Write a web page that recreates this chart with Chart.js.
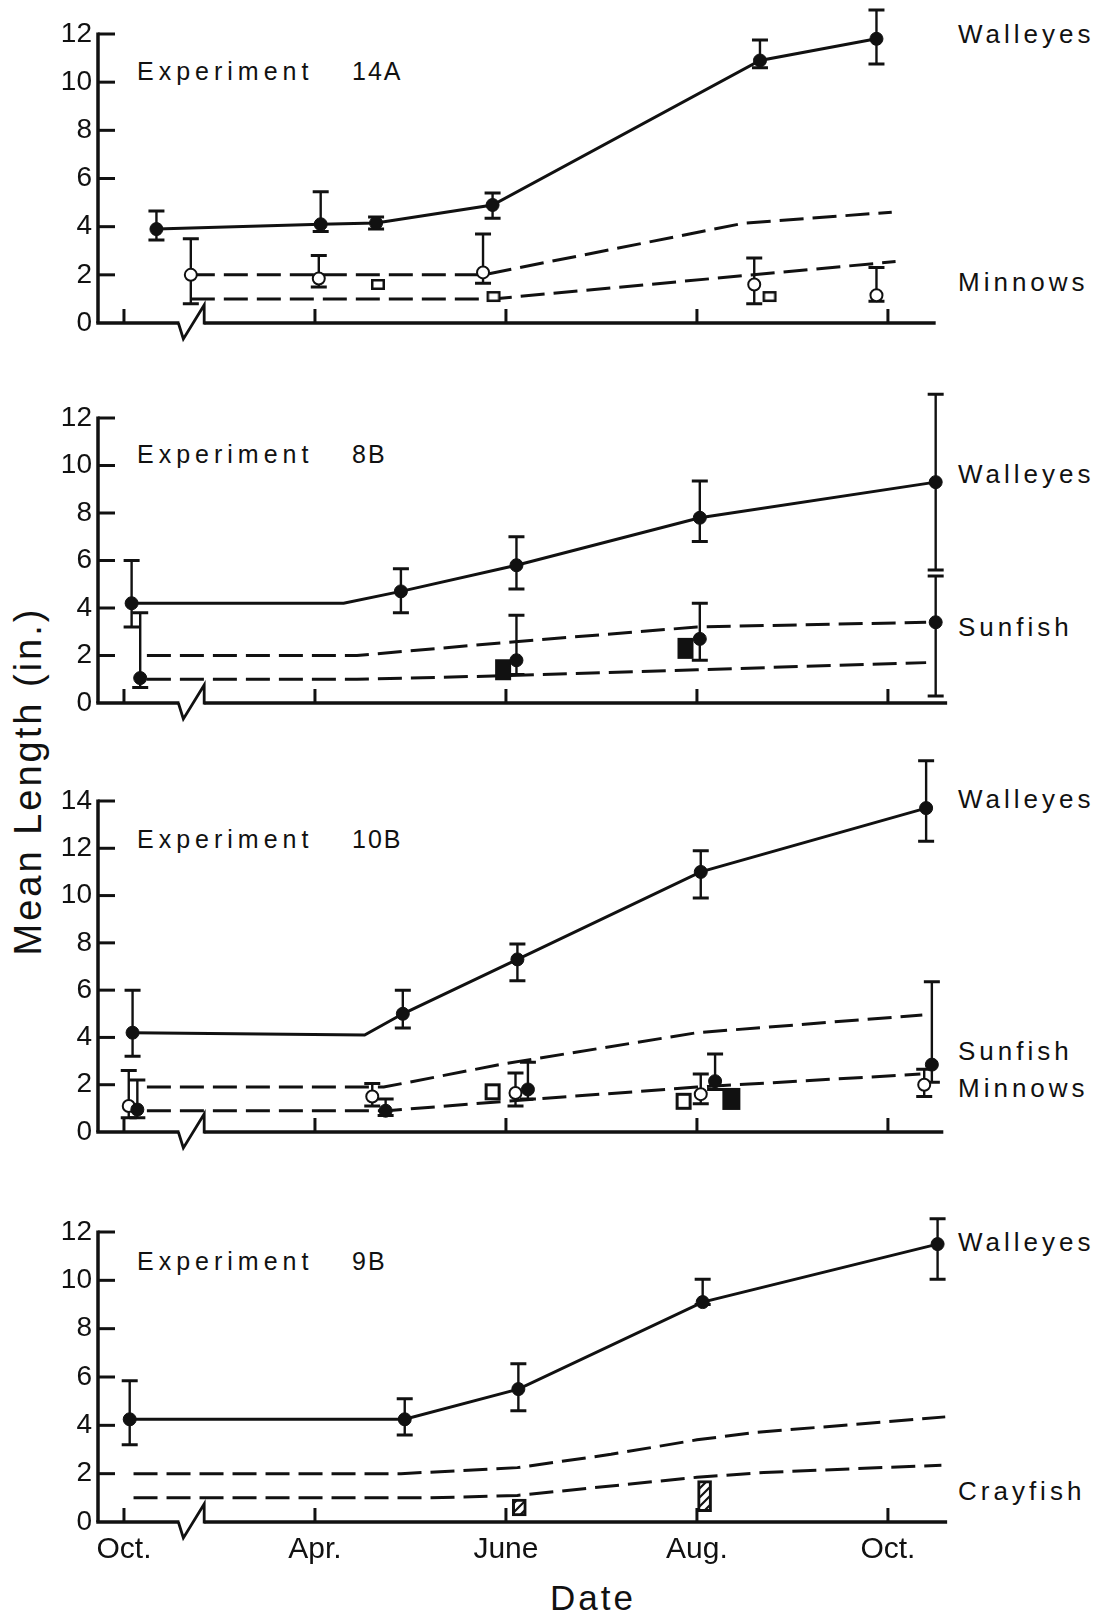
<!DOCTYPE html>
<html>
<head>
<meta charset="utf-8">
<script src="https://cdn.jsdelivr.net/npm/chart.js@4.4.1/dist/chart.umd.min.js"></script>
<style>
  html, body { margin:0; padding:0; background:#fff; }
  body { position:relative; width:1110px; height:1623px; overflow:hidden; font-family:"Liberation Sans", Arial, Helvetica, sans-serif; color:#111; }
  canvas { position:absolute; left:0; }
  .t { position:absolute; white-space:nowrap; line-height:1; }
  .sp { font-size:26px; letter-spacing:4px; left:958px; }
  .ex { font-size:25px; letter-spacing:5px; left:137px; }
  .exn { font-size:25px; letter-spacing:2px; left:352px; }
  .ytitle { font-size:38px; letter-spacing:3px; width:420px; height:40px; line-height:40px; text-align:center; left:-182px; top:761px; transform:rotate(-90deg); }
  .xtitle { font-size:35px; letter-spacing:3px; width:300px; text-align:center; left:443px; top:1580px; }
</style>
</head>
<body>
<div class="t ex" style="top:59px">Experiment</div><div class="t exn" style="top:59px">14A</div>
<div class="t ex" style="top:442px">Experiment</div><div class="t exn" style="top:442px">8B</div>
<div class="t ex" style="top:827px">Experiment</div><div class="t exn" style="top:827px">10B</div>
<div class="t ex" style="top:1249px">Experiment</div><div class="t exn" style="top:1249px">9B</div>

<div class="t sp" style="top:21px">Walleyes</div>
<div class="t sp" style="top:269px">Minnows</div>
<div class="t sp" style="top:461px">Walleyes</div>
<div class="t sp" style="top:614px">Sunfish</div>
<div class="t sp" style="top:786px">Walleyes</div>
<div class="t sp" style="top:1038px">Sunfish</div>
<div class="t sp" style="top:1075px">Minnows</div>
<div class="t sp" style="top:1229px">Walleyes</div>
<div class="t sp" style="top:1478px">Crayfish</div>

<div class="t ytitle">Mean Length (in.)</div>
<div class="t xtitle">Date</div>

<script>
// ---------- shared axis data ----------
const xTickPos = [0, 1, 2, 3, 4];
const xTickLabels = ['Oct.', 'Apr.', 'June', 'Aug.', 'Oct.'];
const yTicks12 = [0, 2, 4, 6, 8, 10, 12];
const yTicks14 = [0, 2, 4, 6, 8, 10, 12, 14];
const xBreak = [0.29, 0.42];

// ---------- Experiment 14A ----------
const e14A_walleyeX  = [0.17, 1.03, 1.32, 1.93, 3.33, 3.94];
const e14A_walleyeY  = [3.9, 4.1, 4.15, 4.9, 10.9, 11.8];
const e14A_walleyeLo = [3.45, 3.8, 3.9, 4.35, 10.6, 10.75];
const e14A_walleyeHi = [4.65, 5.45, 4.4, 5.4, 11.75, 13.0];
const e14A_minnowX  = [0.35, 1.02, 1.88, 3.30, 3.94];
const e14A_minnowY  = [2.0, 1.85, 2.1, 1.6, 1.15];
const e14A_minnowLo = [0.8, 1.5, 1.65, 0.8, 0.9];
const e14A_minnowHi = [3.5, 2.8, 3.7, 2.7, 2.3];
const e14A_openSqX = [1.33, 1.935, 3.38];
const e14A_openSqY = [1.6, 1.1, 1.1];
const e14A_upperX = [0.35, 1.88, 3.25, 4.02];
const e14A_upperY = [2.0, 2.0, 4.15, 4.6];
const e14A_lowerX = [0.35, 1.93, 4.04];
const e14A_lowerY = [1.0, 1.0, 2.55];

// ---------- Experiment 8B ----------
const e8B_walleyeX  = [0.04, 1.45, 2.055, 3.015, 4.25];
const e8B_walleyeY  = [4.2, 4.7, 5.8, 7.8, 9.3];
const e8B_walleyeLo = [3.2, 3.8, 4.8, 6.8, 5.6];
const e8B_walleyeHi = [6.0, 5.65, 7.0, 9.35, 13.0];
const e8B_walleyeLineX = [0.04, 1.15, 1.45, 2.055, 3.015, 4.25];
const e8B_walleyeLineY = [4.2, 4.2, 4.7, 5.8, 7.8, 9.3];
const e8B_sunfishX  = [0.085, 2.055, 3.015, 4.25];
const e8B_sunfishY  = [1.05, 1.8, 2.7, 3.4];
const e8B_sunfishLo = [0.65, 1.2, 1.8, 0.3];
const e8B_sunfishHi = [3.8, 3.7, 4.2, 5.35];
const e8B_fillSqX = [1.985, 2.94];
const e8B_fillSqY = [1.4, 2.3];
const e8B_upperX = [0.12, 1.22, 2.0, 3.0, 4.2];
const e8B_upperY = [2.0, 2.0, 2.55, 3.2, 3.4];
const e8B_lowerX = [0.12, 1.22, 2.0, 3.0, 4.2];
const e8B_lowerY = [1.0, 1.0, 1.15, 1.4, 1.7];

// ---------- Experiment 10B ----------
const e10B_walleyeX  = [0.045, 1.46, 2.06, 3.02, 4.2];
const e10B_walleyeY  = [4.2, 5.0, 7.3, 11.0, 13.7];
const e10B_walleyeLo = [3.2, 4.4, 6.4, 9.9, 12.3];
const e10B_walleyeHi = [6.0, 6.0, 7.95, 11.9, 15.7];
const e10B_walleyeLineX = [0.045, 1.26, 1.46, 2.06, 3.02, 4.2];
const e10B_walleyeLineY = [4.2, 4.1, 5.0, 7.3, 11.0, 13.7];
const e10B_minnowX  = [0.025, 1.30, 2.05, 3.02, 4.19];
const e10B_minnowY  = [1.1, 1.5, 1.65, 1.6, 2.0];
const e10B_minnowLo = [0.6, 1.1, 1.1, 1.2, 1.5];
const e10B_minnowHi = [2.6, 2.05, 2.5, 2.45, 2.65];
const e10B_sunfishX  = [0.07, 1.37, 2.115, 3.095, 4.23];
const e10B_sunfishY  = [0.95, 0.9, 1.8, 2.15, 2.85];
const e10B_sunfishLo = [0.6, 0.7, 1.4, 1.8, 2.1];
const e10B_sunfishHi = [2.2, 1.4, 2.95, 3.3, 6.35];
const e10B_openSqX = [1.93, 2.93];
const e10B_openSqY = [1.7, 1.3];
const e10B_fillSqX = [3.18];
const e10B_fillSqY = [1.4];
const e10B_upperX = [0.12, 1.36, 2.0, 3.0, 4.18];
const e10B_upperY = [1.9, 1.9, 2.9, 4.2, 4.95];
const e10B_lowerX = [0.12, 1.38, 2.0, 3.0, 4.17];
const e10B_lowerY = [0.9, 0.9, 1.3, 1.9, 2.45];

// ---------- Experiment 9B ----------
const e9B_walleyeX  = [0.03, 1.47, 2.065, 3.03, 4.26];
const e9B_walleyeY  = [4.25, 4.25, 5.5, 9.1, 11.5];
const e9B_walleyeLo = [3.2, 3.6, 4.6, 9.0, 10.05];
const e9B_walleyeHi = [5.85, 5.1, 6.55, 10.05, 12.55];
const e9B_upperX = [0.05, 1.45, 2.06, 2.55, 3.0, 3.3, 4.3];
const e9B_upperY = [2.0, 2.0, 2.25, 2.8, 3.4, 3.7, 4.35];
const e9B_lowerX = [0.05, 1.6, 2.06, 3.0, 3.35, 4.28];
const e9B_lowerY = [1.0, 1.0, 1.1, 1.85, 2.05, 2.35];
const e9B_crayfishX  = [2.07, 3.04];
const e9B_crayfishLo = [0.25, 0.43];
const e9B_crayfishHi = [0.95, 1.71];

// ---------- helpers ----------
const INK = '#111';
const FONT = '"Liberation Sans", Arial, Helvetica, sans-serif';
const X_MIN = -0.136, X_MAX = 4.325;
const pts = (xs, ys) => xs.map((x, i) => ({ x, y: ys[i] }));

function rectImg(w, h, filled, lw) {
  const c = document.createElement('canvas');
  c.width = w + 2; c.height = h + 2;
  const g = c.getContext('2d');
  g.fillStyle = filled ? INK : '#fff';
  g.fillRect(1, 1, w, h);
  g.strokeStyle = INK; g.lineWidth = lw;
  g.strokeRect(1 + lw / 2, 1 + lw / 2, w - lw, h - lw);
  return c;
}
function hatchPattern() {
  const c = document.createElement('canvas');
  c.width = 9; c.height = 9;
  const g = c.getContext('2d');
  g.fillStyle = '#fff'; g.fillRect(0, 0, 9, 9);
  g.strokeStyle = INK; g.lineWidth = 2.2;
  g.beginPath();
  g.moveTo(-2, 11); g.lineTo(11, -2);
  g.moveTo(-7, 7); g.lineTo(7, -7);
  g.moveTo(2, 16); g.lineTo(16, 2);
  g.stroke();
  return g.createPattern(c, 'repeat');
}
function lineDS(xs, ys, dashed) {
  return { type: 'line', data: pts(xs, ys), showLine: true, borderColor: INK,
    borderWidth: 3, borderDash: dashed ? [24, 9] : [], pointRadius: 0,
    fill: false, tension: 0, clip: false, order: 5 };
}
function dotDS(xs, ys, lo, hi, open, r) {
  return { type: 'scatter', data: pts(xs, ys), showLine: false, pointStyle: 'circle',
    pointRadius: r, pointBackgroundColor: open ? '#fff' : INK, pointBorderColor: INK,
    pointBorderWidth: open ? 2 : 1, errLo: lo, errHi: hi, clip: false, order: 0 };
}
function rectDS(xs, ys, w, h, filled, lw) {
  return { type: 'scatter', data: pts(xs, ys), showLine: false,
    pointStyle: rectImg(w, h, filled, lw), pointRadius: 4, clip: false, order: 1 };
}
function barDS(xs, lo, hi) {
  return { type: 'bar', data: xs.map((x, i) => ({ x, y: [lo[i], hi[i]] })),
    backgroundColor: hatchPattern(), borderColor: INK, borderWidth: 3,
    borderSkipped: false, barThickness: 14, grouped: false, clip: false, order: 1 };
}

const errorBarPlugin = {
  id: 'errbars',
  beforeDatasetsDraw(chart) {
    const ctx = chart.ctx, xs = chart.scales.x, ys = chart.scales.y;
    ctx.save();
    ctx.strokeStyle = INK; ctx.lineCap = 'butt';
    chart.data.datasets.forEach(ds => {
      if (!ds.errLo) return;
      ds.data.forEach((p, j) => {
        const x = xs.getPixelForValue(p.x);
        const y1 = ys.getPixelForValue(ds.errLo[j]);
        const y2 = ys.getPixelForValue(ds.errHi[j]);
        ctx.lineWidth = 2.4;
        ctx.beginPath(); ctx.moveTo(x, y1); ctx.lineTo(x, y2); ctx.stroke();
        ctx.lineWidth = 3;
        ctx.beginPath();
        ctx.moveTo(x - 8, y1); ctx.lineTo(x + 8, y1);
        ctx.moveTo(x - 8, y2); ctx.lineTo(x + 8, y2);
        ctx.stroke();
      });
    });
    ctx.restore();
  }
};

const axesPlugin = {
  id: 'axes',
  beforeDatasetsDraw(chart, args, o) {
    const ctx = chart.ctx, xs = chart.scales.x, ys = chart.scales.y;
    const L = chart.chartArea.left;
    const y0 = ys.getPixelForValue(0), yT = ys.getPixelForValue(o.yMax);
    ctx.save();
    ctx.strokeStyle = INK; ctx.lineCap = 'butt'; ctx.lineJoin = 'miter';
    ctx.lineWidth = 3.5;
    ctx.beginPath(); ctx.moveTo(L, y0); ctx.lineTo(L, yT - 1.5); ctx.stroke();
    ctx.lineWidth = 3;
    o.yTicks.forEach(v => {
      if (v === 0) return;
      const p = ys.getPixelForValue(v);
      ctx.beginPath(); ctx.moveTo(L, p); ctx.lineTo(L + 17, p); ctx.stroke();
    });
    const a = xs.getPixelForValue(xBreak[0]), b = xs.getPixelForValue(xBreak[1]);
    const e = xs.getPixelForValue(o.end);
    ctx.lineWidth = 3.5;
    ctx.beginPath(); ctx.moveTo(L - 1.75, y0); ctx.lineTo(a, y0); ctx.stroke();
    ctx.beginPath(); ctx.moveTo(b, y0); ctx.lineTo(e, y0); ctx.stroke();
    ctx.lineWidth = 2.8;
    ctx.beginPath();
    ctx.moveTo(a - 1, y0); ctx.lineTo(a + 4, y0 + 16); ctx.lineTo(b, y0 - 18); ctx.lineTo(b, y0 + 1.5);
    ctx.stroke();
    ctx.lineWidth = 3;
    xTickPos.forEach(v => {
      const p = xs.getPixelForValue(v);
      ctx.beginPath(); ctx.moveTo(p, y0); ctx.lineTo(p, y0 - 14); ctx.stroke();
    });
    ctx.restore();
  }
};

function makePanel(top, height, padTop, xAxisH, yMax, yTicks, end, showX, datasets) {
  const cv = document.createElement('canvas');
  cv.width = 1110; cv.height = height;
  cv.style.top = top + 'px';
  document.body.appendChild(cv);
  new Chart(cv, {
    type: 'scatter',
    data: { datasets },
    options: {
      responsive: false, animation: false, events: [],
      devicePixelRatio: 1,
      layout: { padding: { top: padTop, left: 0, right: 160, bottom: 0 } },
      plugins: { legend: { display: false }, tooltip: { enabled: false },
        axes: { yMax, yTicks, end } },
      scales: {
        x: { type: 'linear', min: X_MIN, max: X_MAX, offset: false,
          grid: { display: false, drawTicks: false }, border: { display: false },
          afterBuildTicks: s => { s.ticks = xTickPos.map(v => ({ value: v })); },
          ticks: { display: showX, autoSkip: false, maxRotation: 0, padding: 10,
            color: INK, font: { family: FONT, size: 30 },
            callback: v => { const i = xTickPos.indexOf(v); return i >= 0 ? xTickLabels[i] : ''; } },
          afterFit: s => { s.height = xAxisH; } },
        y: { type: 'linear', min: 0, max: yMax,
          grid: { display: false, drawTicks: false }, border: { display: false },
          afterBuildTicks: s => { s.ticks = yTicks.map(v => ({ value: v })); },
          ticks: { padding: 6, color: INK, font: { family: FONT, size: 28 }, callback: v => String(v) },
          afterFit: s => { s.width = 98; } }
      }
    },
    plugins: [axesPlugin, errorBarPlugin]
  });
}

// Panel 1: Experiment 14A
makePanel(0, 360, 34, 37, 12, yTicks12, 4.25, false, [
  dotDS(e14A_walleyeX, e14A_walleyeY, e14A_walleyeLo, e14A_walleyeHi, false, 6.5),
  dotDS(e14A_minnowX, e14A_minnowY, e14A_minnowLo, e14A_minnowHi, true, 6),
  rectDS(e14A_openSqX, e14A_openSqY, 14, 11, false, 2.5),
  lineDS(e14A_walleyeX, e14A_walleyeY, false),
  lineDS(e14A_upperX, e14A_upperY, true),
  lineDS(e14A_lowerX, e14A_lowerY, true)
]);

// Panel 2: Experiment 8B
makePanel(370, 360, 48, 27, 12, yTicks12, 4.31, false, [
  dotDS(e8B_walleyeX, e8B_walleyeY, e8B_walleyeLo, e8B_walleyeHi, false, 6.5),
  dotDS(e8B_sunfishX, e8B_sunfishY, e8B_sunfishLo, e8B_sunfishHi, false, 6.5),
  rectDS(e8B_fillSqX, e8B_fillSqY, 16, 21, true, 2),
  lineDS(e8B_walleyeLineX, e8B_walleyeLineY, false),
  lineDS(e8B_upperX, e8B_upperY, true),
  lineDS(e8B_lowerX, e8B_lowerY, true)
]);

// Panel 3: Experiment 10B
makePanel(740, 420, 61, 28, 14, yTicks14, 4.29, false, [
  dotDS(e10B_walleyeX, e10B_walleyeY, e10B_walleyeLo, e10B_walleyeHi, false, 6.5),
  dotDS(e10B_sunfishX, e10B_sunfishY, e10B_sunfishLo, e10B_sunfishHi, false, 6.5),
  dotDS(e10B_minnowX, e10B_minnowY, e10B_minnowLo, e10B_minnowHi, true, 6),
  rectDS(e10B_openSqX, e10B_openSqY, 16, 17, false, 3),
  rectDS(e10B_fillSqX, e10B_fillSqY, 18, 22, true, 2),
  lineDS(e10B_walleyeLineX, e10B_walleyeLineY, false),
  lineDS(e10B_upperX, e10B_upperY, true),
  lineDS(e10B_lowerX, e10B_lowerY, true)
]);

// Panel 4: Experiment 9B
makePanel(1180, 443, 52, 101, 12, yTicks12, 4.31, true, [
  dotDS(e9B_walleyeX, e9B_walleyeY, e9B_walleyeLo, e9B_walleyeHi, false, 6.5),
  barDS(e9B_crayfishX, e9B_crayfishLo, e9B_crayfishHi),
  lineDS(e9B_walleyeX, e9B_walleyeY, false),
  lineDS(e9B_upperX, e9B_upperY, true),
  lineDS(e9B_lowerX, e9B_lowerY, true)
]);
</script>
</body>
</html>
